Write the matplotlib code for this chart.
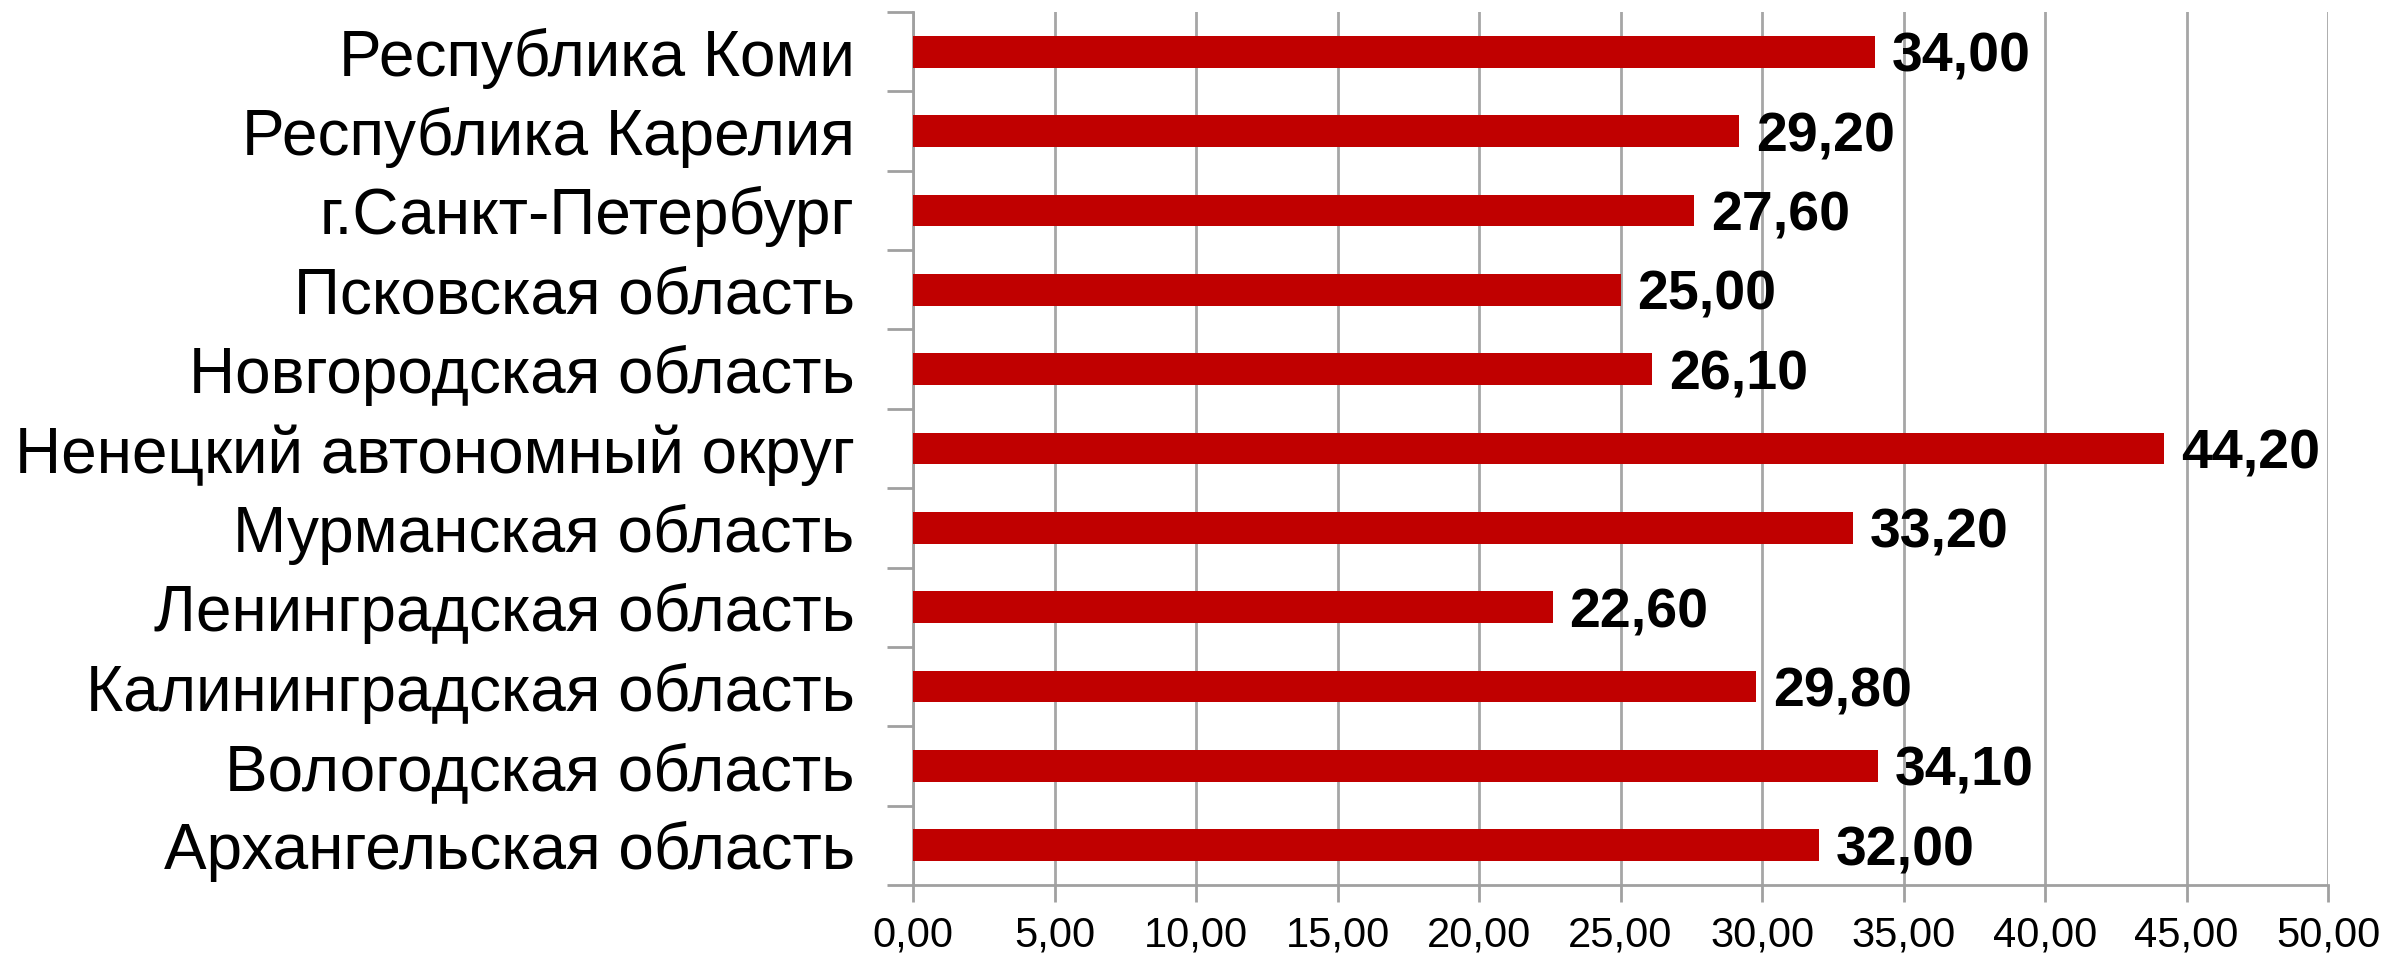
import matplotlib
matplotlib.use("Agg")
import matplotlib.pyplot as plt
import numpy as np

# regions, listed bottom to top
regions = [
    "Архангельская область",
    "Вологодская область",
    "Калининградская область",
    "Ленинградская область",
    "Мурманская область",
    "Ненецкий автономный округ",
    "Новгородская область",
    "Псковская область",
    "г.Санкт-Петербург",
    "Республика Карелия",
    "Республика Коми",
]
values = [32.00, 34.10, 29.80, 22.60, 33.20, 44.20, 26.10, 25.00, 27.60, 29.20, 34.00]
x_ticks = [0, 5, 10, 15, 20, 25, 30, 35, 40, 45, 50]

plt.rcParams['font.family'] = ['Liberation Sans', 'DejaVu Sans']

fig = plt.figure(figsize=(23.87, 9.56), dpi=100)
ax = fig.add_axes([0.3825, 0.0743, 0.9753 - 0.3825, 0.9874 - 0.0743])

y = np.arange(len(regions))
ax.barh(y, values, height=0.4, color='#c00000', zorder=3)

# value labels
for yi, v in zip(y, values):
    ax.text(v + 0.6, yi, f"{v:.2f}".replace('.', ','), va='center_baseline', ha='left',
            fontsize=40, fontweight='bold', color='black', zorder=4)

ax.set_xlim(0, 50)
ax.set_ylim(-0.5, len(regions) - 0.5)
ax.set_xticks(x_ticks)
ax.set_xticklabels([f"{t:.2f}".replace('.', ',') for t in x_ticks], fontsize=30)

# category labels centred, tick marks between categories
ax.set_yticks(y)
ax.set_yticklabels(regions, fontsize=46)
ax.set_yticks(np.arange(-0.5, len(regions), 1), minor=True)
ax.tick_params(axis='y', which='major', length=0, pad=42)
ax.tick_params(axis='y', which='minor', length=19, width=2, color='#a0a0a0')
ax.tick_params(axis='x', length=12, width=2, color='#a0a0a0', pad=10)

ax.grid(axis='x', color='#a6a6a6', linewidth=2, zorder=0)
for side in ['top', 'right']:
    ax.spines[side].set_visible(False)
for side in ['left', 'bottom']:
    ax.spines[side].set_color('#a0a0a0')
    ax.spines[side].set_linewidth(2)

fig.savefig('out.png', dpi=100)
